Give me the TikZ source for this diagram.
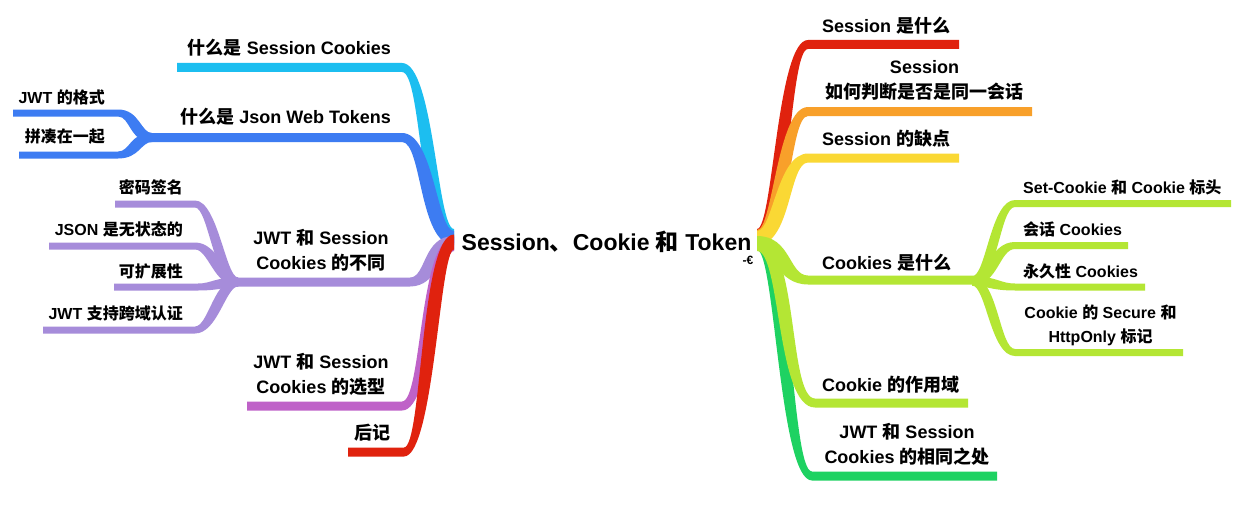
\documentclass[tikz,border=0pt]{standalone}
\usepackage{fontspec}
\setmainfont{Liberation Sans}
\newfontfamily\zhf{Noto Sans CJK SC}
\newcommand\zh[1]{{\zhf #1}}
\definecolor{cCyan}{HTML}{1CBEF0}
\definecolor{cBlue}{HTML}{3D7CF2}
\definecolor{cPurple}{HTML}{A68CDA}
\definecolor{cMagenta}{HTML}{BF62C8}
\definecolor{cRed}{HTML}{E0220E}
\definecolor{cOrange}{HTML}{F8A02A}
\definecolor{cYellow}{HTML}{FAD834}
\definecolor{cLime}{HTML}{B4E634}
\definecolor{cGreen}{HTML}{1ED262}
% tapered branch: #1 colour, #2 rx, #3 ry, #4 ex, #5 ey, #6 line end x, #7 h0, #8 h1, #9 k
\newcommand\br[9]{%
  \pgfmathsetmacro\sx{sign(#4-#2)}%
  \pgfmathsetmacro\sg{sign(#4-#2)*sign(#5-#3)}%
  \pgfmathsetmacro\ca{#2+\sx*#9}%
  \pgfmathsetmacro\cb{#4-\sx*#9}%
  \fill[#1] (#2,{#3-#7}) .. controls ({\ca+1.3*\sg*#7},{#3-#7}) and ({\cb+1.3*\sg*#8},{#5-#8}) .. (#4,{#5-#8})
    -- (#6,{#5-#8}) -- (#6,{#5+#8}) -- (#4,{#5+#8})
    .. controls ({\cb-1.3*\sg*#8},{#5+#8}) and ({\ca-1.3*\sg*#7},{#3+#7}) .. (#2,{#3+#7}) -- cycle;}
\tikzset{
  mainlbl/.style={font=\fontsize{18}{25}\selectfont\bfseries, inner sep=0pt, align=center},
  sublbl/.style={font=\fontsize{16}{24}\selectfont\bfseries, inner sep=0pt, align=center},
  rootlbl/.style={font=\fontsize{23}{27}\selectfont\bfseries, inner sep=0pt},
}
\begin{document}
\begin{tikzpicture}[x=1pt,y=-1pt]
\fill[white] (0,0) rectangle (1247,511);
\useasboundingbox (0,0) rectangle (1247,511);
% ---------- left side ----------
\br{cCyan}{454}{236}{402}{67.5}{177}{7}{4.5}{26}
\br{cBlue}{454}{238}{402}{137.5}{150}{7}{4.5}{26}
\br{cBlue}{152}{137.5}{118}{113}{13}{4.5}{3.5}{17}
\br{cBlue}{152}{137.5}{118}{155}{19}{4.5}{3.5}{17}
\br{cPurple}{454}{243}{410}{282}{235}{7}{4.5}{22}
\br{cPurple}{238}{282}{195}{204}{115}{4.5}{3.5}{18}
\br{cPurple}{238}{282}{195}{246}{49}{4.5}{3.5}{18}
\br{cPurple}{238}{282}{198}{287}{114}{4.5}{3.5}{18}
\br{cPurple}{238}{282}{195}{330}{43}{4.5}{3.5}{18}
\br{cMagenta}{454}{244}{402}{406}{247}{7}{4.5}{26}
\br{cRed}{454}{242}{404}{452}{348}{7.5}{4.5}{24}
% ---------- right side ----------
\br{cRed}{757}{236}{808}{44.5}{959}{7}{4.5}{25}
\br{cOrange}{757}{237}{808}{111.5}{1032}{7}{4.5}{25}
\br{cYellow}{757}{238}{808}{158}{959}{7}{4.5}{25}
\br{cGreen}{757}{243}{812}{476}{997}{7}{4.5}{27}
\br{cLime}{757}{244}{815}{403}{968}{7}{4.5}{33}
\br{cLime}{757}{243}{808}{280}{975}{7}{4.5}{25}
\br{cLime}{972}{281}{1015}{203.5}{1231}{4.5}{3.5}{20}
\br{cLime}{972}{281}{1015}{245.5}{1128}{4.5}{3.5}{20}
\br{cLime}{972}{281}{1015}{287}{1145}{4.5}{3.5}{20}
\br{cLime}{972}{281}{1015}{352.5}{1183}{4.5}{3.5}{20}
% ---------- labels ----------
\node[rootlbl] (root) at (606.5,242) {Session\zh{、}Cookie \zh{和} Token};
\node[inner sep=0pt, font=\fontsize{12}{12}\selectfont\bfseries] (rootmark) at (748,260) {-€};
\node[mainlbl, anchor=east] (l1) at (391,48) {\zh{什么是} Session Cookies};
\node[mainlbl, anchor=east] (l2) at (391,117) {\zh{什么是} Json Web Tokens};
\node[sublbl, anchor=east] (l2a) at (105,97) {JWT \zh{的格式}};
\node[sublbl, anchor=east] (l2b) at (105,137) {\zh{拼凑在一起}};
\node[mainlbl] (l3) at (321,250) {JWT \zh{和} Session\\Cookies \zh{的不同}};
\node[sublbl, anchor=east] (l3a) at (183,187) {\zh{密码签名}};
\node[sublbl, anchor=east] (l3b) at (183,229) {JSON \zh{是无状态的}};
\node[sublbl, anchor=east] (l3c) at (183,271) {\zh{可扩展性}};
\node[sublbl, anchor=east] (l3d) at (183,313) {JWT \zh{支持跨域认证}};
\node[mainlbl] (l4) at (321,374) {JWT \zh{和} Session\\Cookies \zh{的选型}};
\node[mainlbl, anchor=east] (l5) at (391,433) {\zh{后记}};
\node[mainlbl, anchor=west] (r1) at (822,26) {Session \zh{是什么}};
\node[mainlbl] (r2) at (924.5,80.5) {Session\\\zh{如何判断是否是同一会话}};
\node[mainlbl, anchor=west] (r3) at (822,139) {Session \zh{的缺点}};
\node[mainlbl, anchor=west] (r4) at (822,263) {Cookies \zh{是什么}};
\node[sublbl, anchor=west] (r4a) at (1023,187) {Set-Cookie \zh{和} Cookie \zh{标头}};
\node[sublbl, anchor=west] (r4b) at (1023,229) {\zh{会话} Cookies};
\node[sublbl, anchor=west] (r4c) at (1023,271) {\zh{永久性} Cookies};
\node[sublbl] (r4d) at (1100.5,325) {Cookie \zh{的} Secure \zh{和}\\HttpOnly \zh{标记}};
\node[mainlbl, anchor=west] (r5) at (822,385) {Cookie \zh{的作用域}};
\node[mainlbl] (r6) at (907,444.5) {JWT \zh{和} Session\\Cookies \zh{的相同之处}};
\end{tikzpicture}
\end{document}
